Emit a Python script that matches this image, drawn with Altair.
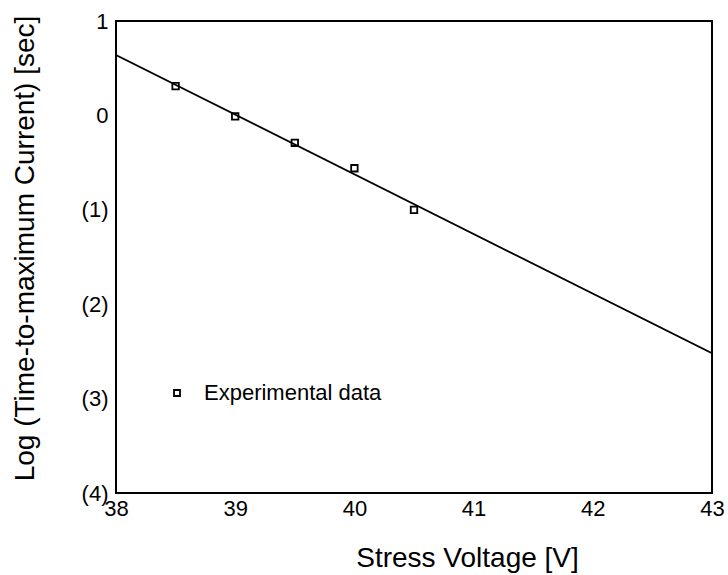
import altair as alt
import pandas as pd

# Experimental data
voltage = [38.5, 39.0, 39.5, 40.0, 40.5]
log_time = [0.31, -0.01, -0.29, -0.56, -1.0]
series = ["Experimental data"] * len(voltage)

# Fitted line (end points)
fit_voltage = [38.0, 43.0]
fit_log_time = [0.64, -2.52]

x_ticks = [38, 39, 40, 41, 42, 43]
y_ticks = [1, 0, -1, -2, -3, -4]

FONT = "Liberation Sans"

pts = pd.DataFrame({"v": voltage, "t": log_time, "series": series})
fit = pd.DataFrame({"v": fit_voltage, "t": fit_log_time})

x_enc = alt.X(
    "v:Q",
    scale=alt.Scale(domain=[38, 43], nice=False, zero=False),
    axis=alt.Axis(
        values=x_ticks, title="Stress Voltage [V]", grid=False, ticks=False,
        domain=False, labelFontSize=22, labelPadding=5, labelFont=FONT,
        labelColor="black", titleFont=FONT, titleFontSize=28,
        titleFontWeight="normal", titleColor="black",
        titleX=351, titleY=65, titleAlign="center", titleBaseline="middle",
        labelFlush=False,
    ),
)
y_enc = alt.Y(
    "t:Q",
    scale=alt.Scale(domain=[-4, 1], nice=False, zero=False),
    axis=alt.Axis(
        values=y_ticks, title="Log (Time-to-maximum Current) [sec]",
        grid=False, ticks=False, domain=False, labelFontSize=22,
        labelPadding=8, labelFont=FONT, labelColor="black",
        labelExpr="datum.value >= 0 ? format(datum.value, 'd') : '(' + format(-datum.value, 'd') + ')'",
        titleFont=FONT, titleFontSize=28, titleFontWeight="normal",
        titleColor="black", titleX=-91, titleY=227, titleAngle=-90,
        titleAlign="center", titleBaseline="middle", labelFlush=False,
    ),
)

line = alt.Chart(fit).mark_line(color="black", strokeWidth=1.8, clip=True).encode(
    x=x_enc, y=y_enc
)

points = alt.Chart(pts).mark_point(
    shape="square", filled=False, color="black", size=42, strokeWidth=1.8,
    opacity=1,
).encode(
    x=x_enc,
    y=y_enc,
    shape=alt.Shape(
        "series:N",
        scale=alt.Scale(range=["square"]),
        legend=alt.Legend(
            title=None, orient="none", legendX=50, legendY=361, padding=0,
            symbolSize=36, symbolStrokeColor="black", symbolFillColor="white",
            symbolStrokeWidth=1.8, symbolOpacity=1, labelFont=FONT,
            labelFontSize=22, labelColor="black", labelOffset=16,
            labelLimit=400,
        ),
    ),
)

chart = (
    alt.layer(line, points)
    .properties(
        width=596, height=472,
        autosize=alt.AutoSizeParams(type="none"),
        padding={"left": 116, "top": 21, "right": 16, "bottom": 82},
        background="white",
    )
    .configure_view(stroke="black", strokeWidth=2)
)

chart.save("out.html", embed_options={"renderer": "svg", "actions": False})
